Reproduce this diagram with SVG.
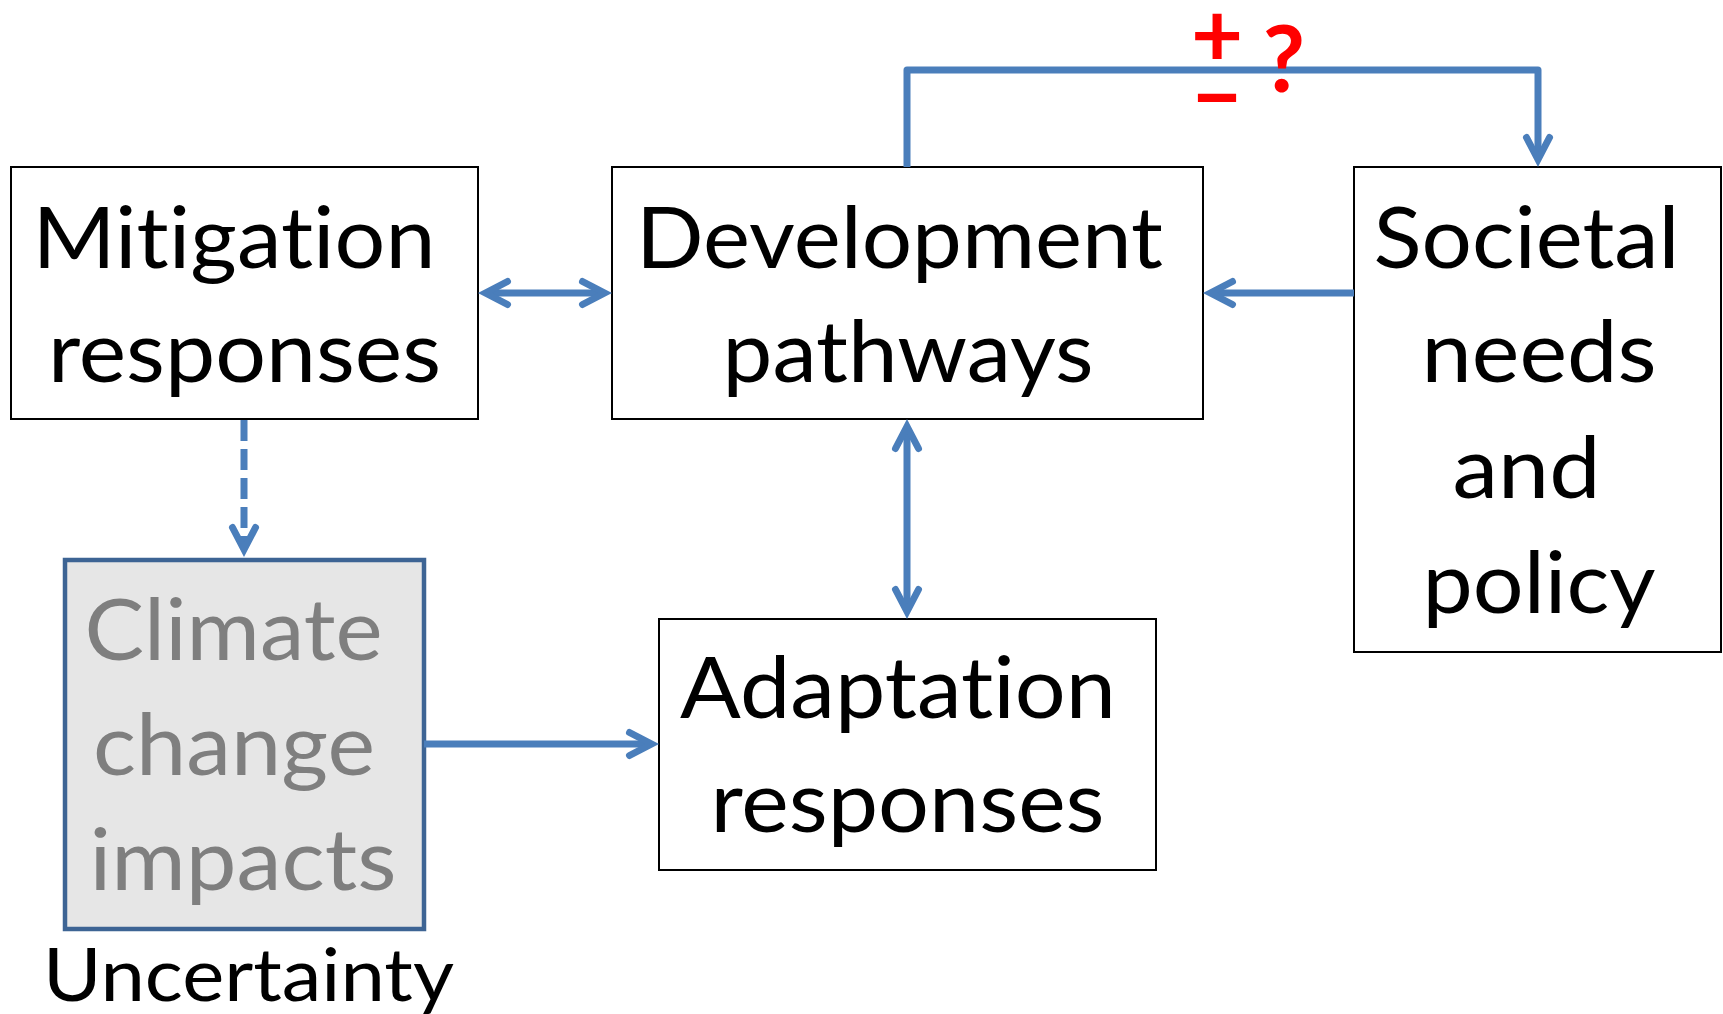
<svg xmlns="http://www.w3.org/2000/svg" width="1723" height="1014" viewBox="0 0 1723 1014">
<style>
.box{fill:#ffffff;stroke:#000000;stroke-width:2}
.cbox{fill:#e6e6e6;stroke:#3d6494;stroke-width:4.5}
.t{font-family:Lato,"Open Sans","Liberation Sans",sans-serif;font-size:85px;fill:#000000;text-anchor:middle;font-variant-ligatures:none;font-feature-settings:"liga" 0,"clig" 0}
.g{fill:#7f7f7f}
.u{font-size:74px}
.c{fill:none;stroke:#4a7ebb;stroke-width:7}
.r{font-family:Lato,"Open Sans","Liberation Sans",sans-serif;font-weight:bold;fill:#ff0000;text-anchor:middle}
</style>
<defs>
<marker id="ah" markerUnits="userSpaceOnUse" markerWidth="60" markerHeight="60" viewBox="-40 -30 60 60" refX="0" refY="0" orient="auto-start-reverse" overflow="visible">
<path d="M-21.5,-11.5 L0.5,0 L-21.5,11.5" fill="none" stroke="#4a7ebb" stroke-width="7" stroke-linecap="round" stroke-linejoin="miter" stroke-miterlimit="4"/>
</marker>
</defs>
<rect width="1723" height="1014" fill="#ffffff"/>

<g id="mitigation">
<rect class="box" x="11" y="167" width="467" height="252"/>
<text class="t" x="234" y="268" textLength="403" lengthAdjust="spacingAndGlyphs">Mitigation</text>
<text class="t" x="244.5" y="382" textLength="393" lengthAdjust="spacingAndGlyphs">responses</text>
</g>

<g id="development">
<rect class="box" x="612" y="167" width="591" height="252"/>
<text class="t" x="899.5" y="268" textLength="527" lengthAdjust="spacingAndGlyphs">Development</text>
<text class="t" x="908" y="382" textLength="371" lengthAdjust="spacingAndGlyphs">pathways</text>
</g>

<g id="societal">
<rect class="box" x="1354" y="167" width="367" height="485"/>
<text class="t" x="1526.5" y="268" textLength="306" lengthAdjust="spacingAndGlyphs">Societal</text>
<text class="t" x="1539" y="382" textLength="235" lengthAdjust="spacingAndGlyphs">needs</text>
<text class="t" x="1526.5" y="498" textLength="148" lengthAdjust="spacingAndGlyphs">and</text>
<text class="t" x="1539" y="613" textLength="233" lengthAdjust="spacingAndGlyphs">policy</text>
</g>

<g id="adaptation">
<rect class="box" x="659" y="619" width="497" height="251"/>
<text class="t" x="898" y="718" textLength="436" lengthAdjust="spacingAndGlyphs">Adaptation</text>
<text class="t" x="907.5" y="832" textLength="394" lengthAdjust="spacingAndGlyphs">responses</text>
</g>

<g id="climate">
<rect class="cbox" x="65" y="560" width="359" height="369"/>
<text class="t g" x="233.5" y="660" textLength="298" lengthAdjust="spacingAndGlyphs">Climate</text>
<text class="t g" x="234" y="775" textLength="282" lengthAdjust="spacingAndGlyphs">change</text>
<text class="t g" x="243" y="890" textLength="307" lengthAdjust="spacingAndGlyphs">impacts</text>
</g>

<g id="uncertainty">
<text class="t u" x="248.5" y="1001" textLength="411" lengthAdjust="spacingAndGlyphs">Uncertainty</text>
</g>

<g id="connectors">
<line class="c" x1="486" y1="293" x2="604" y2="293" marker-start="url(#ah)" marker-end="url(#ah)"/>
<line class="c" x1="907" y1="427" x2="907" y2="611" marker-start="url(#ah)" marker-end="url(#ah)"/>
<line class="c" x1="1354" y1="293" x2="1211" y2="293" marker-end="url(#ah)"/>
<line class="c" x1="424" y1="744" x2="651" y2="744" marker-end="url(#ah)"/>
<line class="c" x1="244" y1="420" x2="244" y2="549" stroke-dasharray="21 8" marker-end="url(#ah)"/>
<path class="c" d="M907,167 V70 H1538 V159" stroke-linejoin="round" marker-end="url(#ah)"/>
</g>

<g id="labels">
<text class="r" style="font-size:90px"><tspan x="1217" y="67">+</tspan><tspan x="1217" y="128" textLength="50" lengthAdjust="spacingAndGlyphs">−</tspan></text>
<text class="r" x="1284" y="92" style="font-size:92px">?</text>
</g>
</svg>
